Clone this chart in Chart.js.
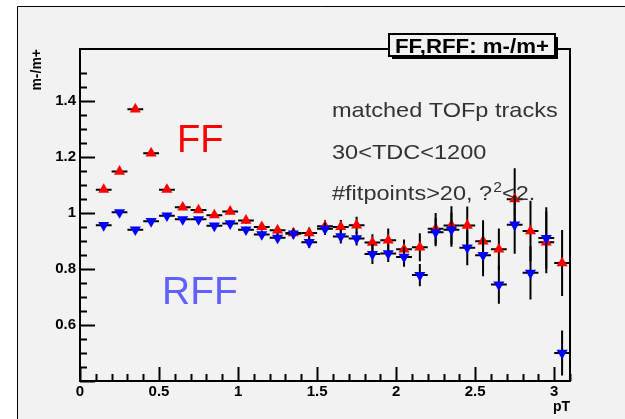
<!DOCTYPE html>
<html>
<head>
<meta charset="utf-8">
<script src="https://cdn.jsdelivr.net/npm/chart.js@4.4.0/dist/chart.umd.min.js"></script>
<style>
  html, body { margin: 0; padding: 0; background: #fff; }
  canvas { display: block; }
</style>
</head>
<body>
<canvas id="ratioChart" width="625" height="419"></canvas>
<script>
// bin centres in pT (GeV/c), bin width 0.1
const pT = [0.15, 0.25, 0.35, 0.45, 0.55, 0.65, 0.75, 0.85, 0.95, 1.05,
            1.15, 1.25, 1.35, 1.45, 1.55, 1.65, 1.75, 1.85, 1.95, 2.05,
            2.15, 2.25, 2.35, 2.45, 2.55, 2.65, 2.75, 2.85, 2.95, 3.05];
const binHalfWidth = 0.05;

// m-/m+ ratio, full field
const ffRatio = [1.083, 1.148, 1.370, 1.213, 1.083, 1.020, 1.010, 0.992, 1.005, 0.973,
                 0.950, 0.938, 0.928, 0.928, 0.952, 0.950, 0.956, 0.894, 0.902, 0.870,
                 0.877, 0.943, 0.955, 0.955, 0.899, 0.870, 1.049, 0.935, 0.895, 0.821];
const ffErr = [0.006, 0.006, 0.008, 0.007, 0.007, 0.007, 0.008, 0.009, 0.010, 0.011,
               0.013, 0.015, 0.017, 0.020, 0.022, 0.025, 0.030, 0.030, 0.042, 0.035,
               0.050, 0.057, 0.069, 0.068, 0.075, 0.074, 0.110, 0.108, 0.110, 0.118];

// m-/m+ ratio, reversed full field
const rffRatio = [0.956, 1.002, 0.940, 0.970, 0.990, 0.977, 0.977, 0.954, 0.962, 0.940,
                  0.923, 0.911, 0.926, 0.895, 0.943, 0.916, 0.909, 0.853, 0.855, 0.843,
                  0.778, 0.931, 0.940, 0.876, 0.849, 0.744, 0.958, 0.786, 0.910, 0.500];
const rffErr = [0.006, 0.006, 0.007, 0.007, 0.007, 0.007, 0.008, 0.009, 0.010, 0.011,
                0.013, 0.015, 0.017, 0.020, 0.022, 0.025, 0.025, 0.035, 0.030, 0.035,
                0.040, 0.050, 0.061, 0.063, 0.075, 0.068, 0.104, 0.095, 0.110, 0.080];

const xLabelStep = 0.5;
const yLabelStep = 0.2;

function onStep(v, step) {
  const r = v / step;
  return Math.abs(r - Math.round(r)) < 1e-6;
}

const padColor = '#f2f2f2';

// pad background and outer frame
const padBackground = {
  id: 'padBackground',
  beforeDraw(chart) {
    const ctx = chart.ctx;
    ctx.save();
    ctx.fillStyle = '#fff';
    ctx.fillRect(0, 0, chart.width, chart.height);
    ctx.fillStyle = padColor;
    ctx.fillRect(17, 6, chart.width - 17, chart.height - 6);
    ctx.strokeStyle = '#000';
    ctx.lineWidth = 1;
    ctx.beginPath();
    ctx.moveTo(17.5, chart.height);
    ctx.lineTo(17.5, 6.5);
    ctx.lineTo(chart.width, 6.5);
    ctx.stroke();
    ctx.restore();
  }
};

// x and y error bars, drawn just before each dataset's markers
const errorBars = {
  id: 'errorBars',
  beforeDatasetDraw(chart, args) {
    const ds = chart.data.datasets[args.index];
    const errs = ds.yErr;
    if (!errs) return;
    const {ctx, scales: {x, y}} = chart;
    ctx.save();
    ctx.strokeStyle = '#000';
    ctx.lineWidth = 2;
    ds.data.forEach((p, i) => {
      const px = x.getPixelForValue(p.x);
      const py = y.getPixelForValue(p.y);
      ctx.beginPath();
      ctx.moveTo(x.getPixelForValue(p.x - binHalfWidth), py);
      ctx.lineTo(x.getPixelForValue(p.x + binHalfWidth), py);
      ctx.moveTo(px, y.getPixelForValue(p.y - errs[i]));
      ctx.lineTo(px, y.getPixelForValue(p.y + errs[i]));
      ctx.stroke();
    });
    ctx.restore();
  }
};

// frame with ticks pointing into the plot
const frameTicks = {
  id: 'frameTicks',
  afterDatasetsDraw(chart) {
    const {ctx, chartArea: a, scales: {x, y}} = chart;
    ctx.save();
    ctx.strokeStyle = '#000';
    ctx.lineWidth = 2;
    ctx.strokeRect(a.left, a.top, a.right - a.left, a.bottom - a.top);
    ctx.beginPath();
    x.ticks.forEach(t => {
      if (!onStep(t.value, 0.1)) return;
      const px = Math.round(x.getPixelForValue(t.value)) + 0.5;
      const len = onStep(t.value, xLabelStep) ? 14 : 7;
      ctx.moveTo(px, a.bottom);
      ctx.lineTo(px, a.bottom - len);
    });
    y.ticks.forEach(t => {
      if (!onStep(t.value, 0.05)) return;
      const py = Math.round(y.getPixelForValue(t.value)) + 0.5;
      const len = onStep(t.value, yLabelStep) ? 15 : 7;
      ctx.moveTo(a.left, py);
      ctx.lineTo(a.left + len, py);
    });
    ctx.stroke();
    ctx.restore();
  }
};

function stretchedText(ctx, text, x, y, sx) {
  ctx.save();
  ctx.translate(x, y);
  ctx.scale(sx, 1);
  ctx.fillText(text, 0, 0);
  const w = ctx.measureText(text).width * sx;
  ctx.restore();
  return w;
}

// title box and labels
const labels = {
  id: 'labels',
  afterDraw(chart) {
    const ctx = chart.ctx;
    ctx.save();

    // title box with shadow
    ctx.fillStyle = '#000';
    ctx.fillRect(392, 37, 166, 22);
    ctx.fillStyle = padColor;
    ctx.fillRect(389, 34, 166, 22);
    ctx.strokeStyle = '#000';
    ctx.lineWidth = 2;
    ctx.strokeRect(389, 34, 166, 22);
    ctx.fillStyle = '#000';
    ctx.font = 'bold 21px "Liberation Sans", Arial, sans-serif';
    ctx.textBaseline = 'alphabetic';
    ctx.textAlign = 'left';
    const title = 'FF,RFF: m-/m+';
    const tw = ctx.measureText(title).width * 1.06;
    stretchedText(ctx, title, 472 - tw / 2, 52.5, 1.06);

    // field labels
    ctx.font = '38px "Liberation Sans", Arial, sans-serif';
    ctx.fillStyle = '#ff0000';
    ctx.fillText('FF', 177, 152);
    ctx.fillStyle = '#6060ff';
    ctx.font = '39px "Liberation Sans", Arial, sans-serif';
    ctx.fillText('RFF', 162, 304);

    // cut description
    const sx = 1.12;
    ctx.fillStyle = '#333';
    ctx.font = '21px "Liberation Sans", Arial, sans-serif';
    stretchedText(ctx, 'matched TOFp tracks', 332, 117, sx);
    stretchedText(ctx, '30<TDC<1200', 332, 158.5, sx);
    let cx = 332;
    cx += stretchedText(ctx, '#fitpoints>20, ?', cx, 200, sx);
    ctx.font = '14px "Liberation Sans", Arial, sans-serif';
    cx += stretchedText(ctx, '2', cx + 1, 192, sx) + 1;
    ctx.font = '21px "Liberation Sans", Arial, sans-serif';
    stretchedText(ctx, '<2.', cx, 200, sx);

    ctx.restore();
  }
};

const tickFont = { family: '"Liberation Sans", Arial, sans-serif', size: 15, weight: 'bold' };

new Chart(document.getElementById('ratioChart'), {
  type: 'scatter',
  data: {
    datasets: [
      {
        label: 'FF',
        data: pT.map((v, i) => ({ x: v, y: ffRatio[i] })),
        yErr: ffErr,
        pointStyle: 'triangle',
        pointRadius: 6.4,
        pointBorderWidth: 0,
        backgroundColor: '#ff0000',
        borderColor: '#ff0000',
        order: 2
      },
      {
        label: 'RFF',
        data: pT.map((v, i) => ({ x: v, y: rffRatio[i] })),
        yErr: rffErr,
        pointStyle: 'triangle',
        rotation: 180,
        pointRadius: 6.4,
        pointBorderWidth: 0,
        backgroundColor: '#0000ff',
        borderColor: '#0000ff',
        order: 1
      }
    ]
  },
  options: {
    responsive: false,
    animation: false,
    devicePixelRatio: 1,
    events: [],
    layout: { padding: { left: 0, top: 49, right: 55, bottom: 0 } },
    plugins: {
      legend: { display: false },
      tooltip: { enabled: false }
    },
    scales: {
      x: {
        type: 'linear',
        min: 0,
        max: 3.1,
        grid: { display: false, drawTicks: false },
        border: { display: false },
        ticks: {
          stepSize: 0.1,
          autoSkip: false,
          maxRotation: 0,
          padding: 2,
          color: '#000',
          font: tickFont,
          callback: v => onStep(v, xLabelStep) ? String(Math.round(v * 10) / 10) : ''
        },
        title: {
          display: true,
          text: 'pT',
          align: 'end',
          color: '#000',
          font: { family: '"Liberation Sans", Arial, sans-serif', size: 14, weight: 'bold' },
          padding: { top: 0, bottom: 3 }
        },
        afterFit: s => { s.height = 38; }
      },
      y: {
        type: 'linear',
        min: 0.4,
        max: 1.585,
        grid: { display: false, drawTicks: false },
        border: { display: false },
        ticks: {
          stepSize: 0.05,
          autoSkip: false,
          padding: 4,
          color: '#000',
          font: tickFont,
          callback: v => (onStep(v, yLabelStep) && v > 0.45) ? String(Math.round(v * 10) / 10) : ''
        },
        title: {
          display: true,
          text: 'm-/m+',
          align: 'end',
          color: '#000',
          font: { family: '"Liberation Sans", Arial, sans-serif', size: 14, weight: 'bold' },
          padding: { top: 29, bottom: 0 }
        },
        afterFit: s => { s.width = 80; }
      }
    }
  },
  plugins: [padBackground, errorBars, frameTicks, labels]
});
</script>
</body>
</html>
